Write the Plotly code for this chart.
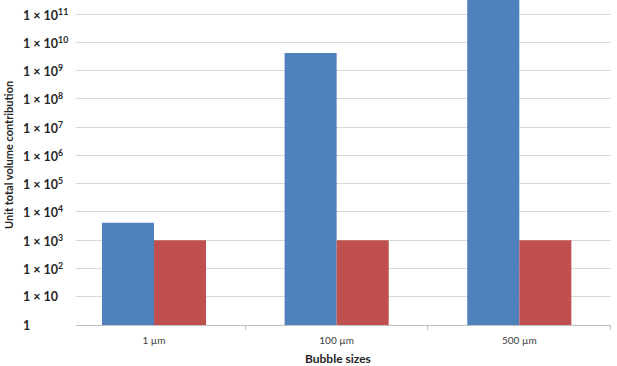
import plotly.graph_objects as go

categories = ["1 µm", "100 µm", "500 µm"]
blue_values = [4189, 4.19e9, 5.24e11]
red_values = [1000, 1000, 1000]
tick_exponents = list(range(0, 12))

def tick_text(n):
    if n == 0:
        return "1"
    if n == 1:
        return "1 × 10"
    return "1 × 10<sup>%d</sup>" % n

FONT = "Lato"
W, H = 617, 366
L, R, T, B = 76, 6, 0, 41
PW, PH = W - L - R, H - B - T

fig = go.Figure()
fig.add_trace(go.Bar(x=categories, y=blue_values, marker=dict(color="#4F81BD", line=dict(width=0))))
fig.add_trace(go.Bar(x=categories, y=red_values, marker=dict(color="#C0504D", line=dict(width=0))))

annotations = []
for n in tick_exponents:
    annotations.append(dict(
        x=(21 - L) / PW, xref="paper", xanchor="left",
        y=n, yref="y", yanchor="middle",
        text="<b>" + tick_text(n) + "</b>", showarrow=False,
        font=dict(family=FONT, size=12.5, color="#262626"),
    ))
annotations.append(dict(
    x=(8 - L) / PW, xref="paper", xanchor="center",
    y=(H - B - 155) / PH, yref="paper", yanchor="middle",
    text="<b>Unit total volume contribution</b>", textangle=-90, showarrow=False,
    font=dict(family=FONT, size=11, color="#262626"),
))
annotations.append(dict(
    x=(338 - L) / PW, xref="paper", xanchor="center",
    y=-(358 - (H - B)) / PH, yref="paper", yanchor="middle",
    text="<b>Bubble sizes</b>", showarrow=False,
    font=dict(family=FONT, size=12, color="#262626"),
))

fig.update_layout(
    width=W, height=H,
    margin=dict(l=L, r=R, t=T, b=B),
    paper_bgcolor="white", plot_bgcolor="white",
    barmode="group", bargap=0.43, bargroupgap=0,
    showlegend=False,
    annotations=annotations,
    xaxis=dict(
        type="category", range=[-0.427, 2.502],
        tickson="boundaries", ticks="outside", ticklen=4, tickcolor="#BFBFBF",
        ticklabelstandoff=6,
        showline=True, linecolor="#BFBFBF", linewidth=1,
        showgrid=False,
        tickfont=dict(family=FONT, size=10, color="#404040"),
    ),
    yaxis=dict(
        type="log", range=[0, 11.5],
        tickvals=[10 ** n for n in tick_exponents],
        showticklabels=False, ticks="",
        showgrid=True, gridcolor="#D9D9D9", gridwidth=1,
        zeroline=False, showline=False,
    ),
)

fig.write_html("out.html")
